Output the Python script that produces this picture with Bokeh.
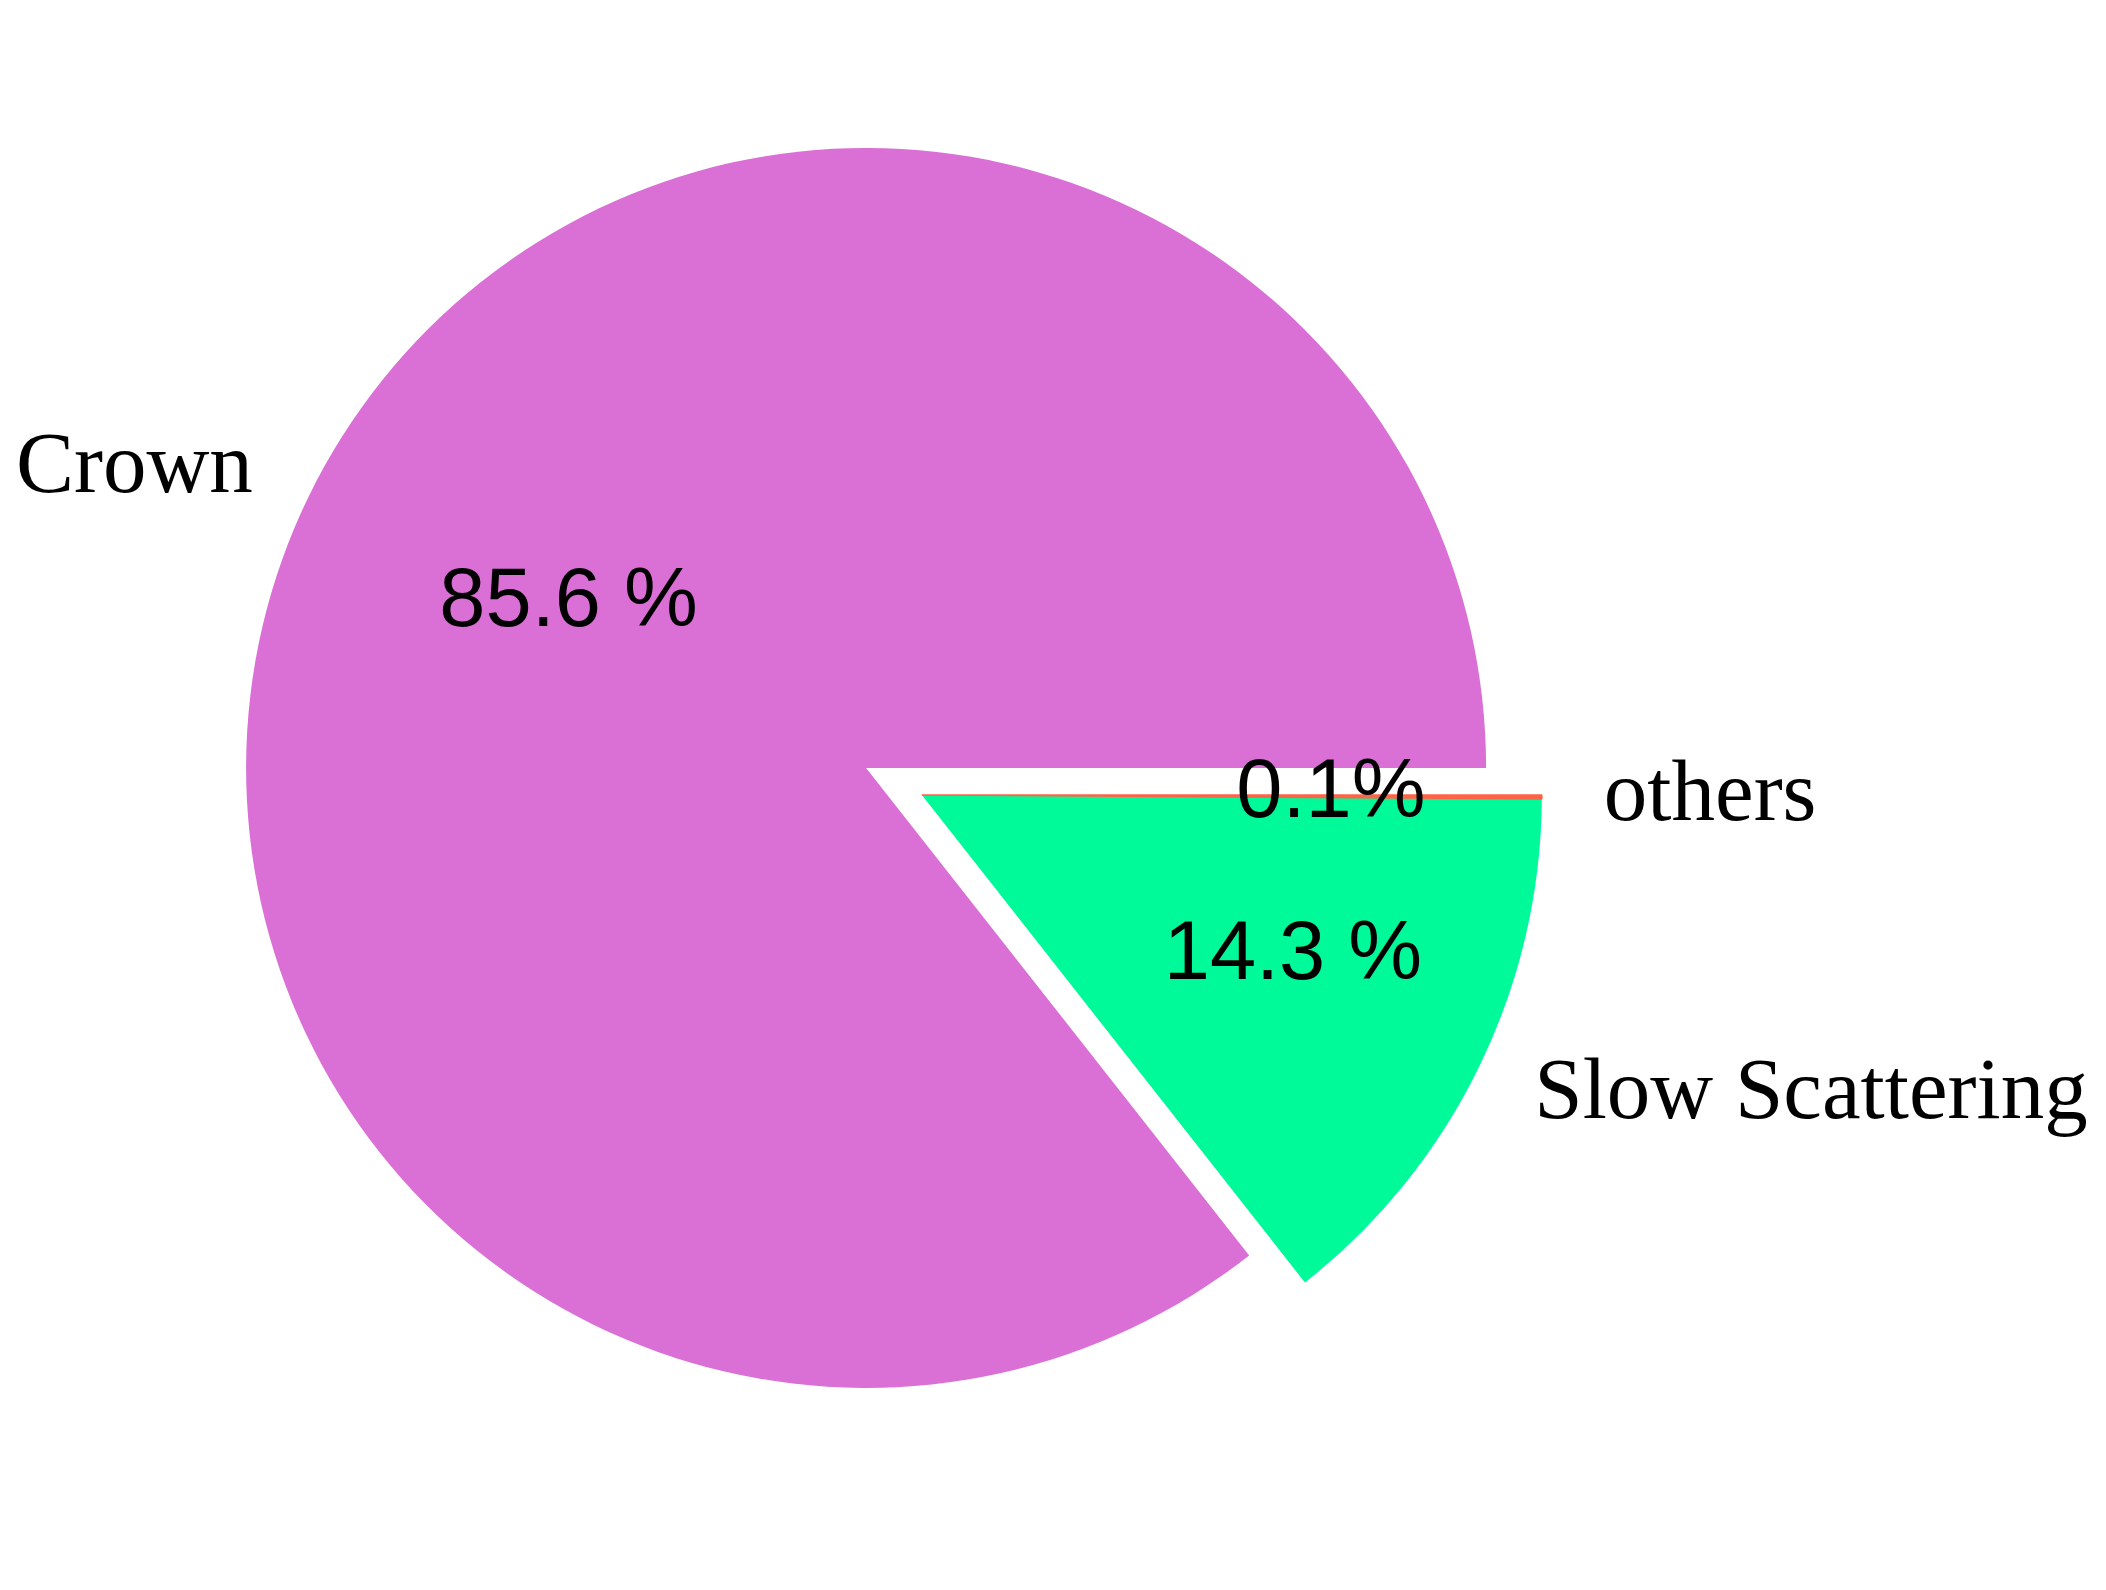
import math
from bokeh.plotting import figure
from bokeh.models import Range1d
from bokeh.core.properties import value
from bokeh.embed import file_html
from bokeh.resources import INLINE

# ---- data ----
labels = ["Crown", "Slow Scattering", "others"]
shares = [85.6, 14.3, 0.1]
pct_labels = ["85.6 %", "14.3 %", "0.1%"]
colors = ["#DA70D6", "#00FA9A", "#FF6347"]
exploded = [False, True, True]   # slices pulled out together as one group
explode_frac = 0.1

# ---- geometry (unit circle pie, start at 0 deg, counter-clockwise) ----
total = sum(shares)
starts, ends = [], []
acc = 0.0
for s in shares:
    starts.append(2 * math.pi * acc / total)
    acc += s
    ends.append(2 * math.pi * acc / total)

grp = [i for i, e in enumerate(exploded) if e]
grp_mid = (starts[grp[0]] + ends[grp[-1]]) / 2
gdx, gdy = explode_frac * math.cos(grp_mid), explode_frac * math.sin(grp_mid)

xs, ys = [], []
for i in range(len(shares)):
    if exploded[i]:
        xs.append(gdx); ys.append(gdy)
    else:
        xs.append(0.0); ys.append(0.0)

W, H = 2090, 1574
scale = 620.0
cx, cy = 865.6, 767.4
p = figure(width=W, height=H, output_backend="svg", toolbar_location=None,
           x_range=Range1d(-cx / scale, (W - cx) / scale),
           y_range=Range1d(-(H - cy) / scale, cy / scale),
           min_border=0)
p.axis.visible = False
p.grid.visible = False
p.outline_line_color = None
p.background_fill_color = "white"

for i in range(len(shares)):
    lw = 1.5 if shares[i] < 1 else 0
    p.wedge(x=[xs[i]], y=[ys[i]], radius=1.0, start_angle=starts[i], end_angle=ends[i],
            fill_color=colors[i], line_color=colors[i] if lw else None, line_width=lw)

for i in range(len(shares)):
    mid = (starts[i] + ends[i]) / 2
    c, s = math.cos(mid), math.sin(mid)
    lx, ly = xs[i] + 1.1 * c, ys[i] + 1.1 * s
    p.text(x=[lx], y=[ly], text=[labels[i]],
           text_align="left" if c > 0 else "right", text_baseline="middle",
           text_font=value("Liberation Serif"), text_font_size="87px",
           text_color="black", y_offset=-7)
    px_, py_ = xs[i] + 0.6 * c, ys[i] + 0.6 * s
    p.text(x=[px_], y=[py_], text=[pct_labels[i]],
           text_align="center", text_baseline="middle",
           text_font=value("Liberation Sans"), text_font_size="83px",
           text_color="black", x_offset=37, y_offset=-8)

open("out.html", "w").write(file_html(p, INLINE))
